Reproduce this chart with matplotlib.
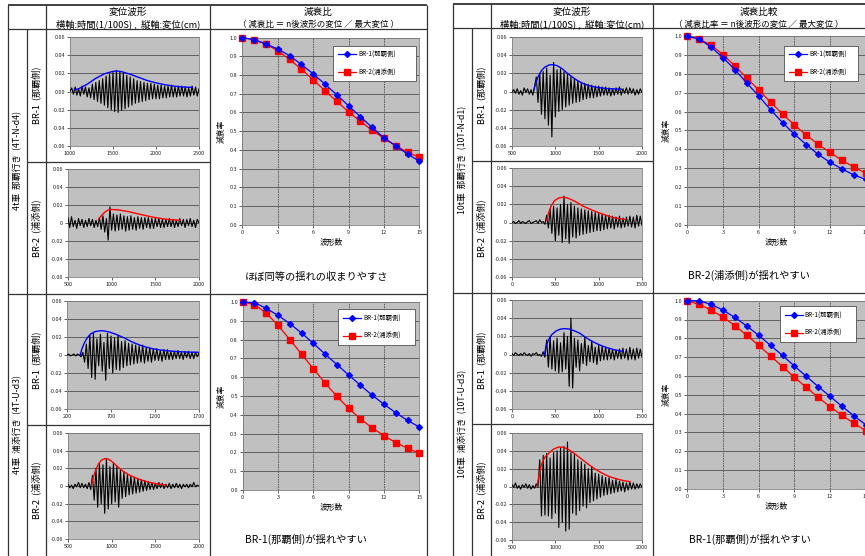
import numpy as np
import matplotlib
matplotlib.use('Agg')
import matplotlib.pyplot as plt

plt.rcParams['font.family'] = ['Noto Sans CJK JP', 'DejaVu Sans']

# ---------------- data ----------------
wave_count = list(range(16))

# decay ratios
d1_br1 = [1.0, 0.99, 0.966, 0.94, 0.904, 0.857, 0.807, 0.752, 0.695, 0.636, 0.578, 0.52, 0.465, 0.422, 0.378, 0.34]
d1_br2 = [1.0, 0.99, 0.966, 0.93, 0.884, 0.832, 0.775, 0.717, 0.66, 0.604, 0.553, 0.505, 0.462, 0.422, 0.388, 0.36]
d2_br1 = [1.0, 0.997, 0.966, 0.929, 0.885, 0.835, 0.78, 0.723, 0.667, 0.612, 0.557, 0.504, 0.456, 0.411, 0.37, 0.335]
d2_br2 = [1.0, 0.986, 0.941, 0.876, 0.80, 0.723, 0.645, 0.569, 0.498, 0.434, 0.379, 0.33, 0.289, 0.252, 0.222, 0.195]
d3_br1 = [1.0, 0.986, 0.943, 0.887, 0.823, 0.752, 0.683, 0.61, 0.542, 0.48, 0.425, 0.373, 0.331, 0.296, 0.264, 0.24]
d3_br2 = [1.0, 0.986, 0.952, 0.903, 0.842, 0.779, 0.715, 0.65, 0.588, 0.529, 0.476, 0.426, 0.384, 0.342, 0.306, 0.273]
d4_br1 = [1.0, 1.0, 0.98, 0.95, 0.911, 0.865, 0.816, 0.762, 0.709, 0.652, 0.598, 0.543, 0.491, 0.438, 0.388, 0.34]
d4_br2 = [1.0, 0.98, 0.95, 0.913, 0.867, 0.816, 0.762, 0.706, 0.649, 0.592, 0.539, 0.486, 0.436, 0.39, 0.348, 0.309]

# displacement waveforms: start time, sample step (1/100 s), peak values (cm)
w1_t0, w1_dt = 1000, 20
w1 = [0.000, 0.004, -0.003, 0.005, -0.004, 0.003, -0.005, 0.006, -0.003, 0.005, -0.006, 0.004, -0.007,
      0.008, -0.009, 0.010, -0.011, 0.012, -0.013, 0.014, -0.015,
      0.017, -0.018, 0.019, -0.020, 0.021, -0.022, 0.023, -0.023,
      0.022, -0.021, 0.020, -0.019, 0.018, -0.017, 0.016,
      -0.015, 0.014, -0.013, 0.012, -0.012, 0.011, -0.011, 0.010, -0.010, 0.009,
      -0.009, 0.009, -0.008, 0.008, -0.008, 0.007, -0.008, 0.007, -0.007, 0.006,
      -0.007, 0.006, -0.006, 0.007, -0.006, 0.005, -0.006, 0.006, -0.005, 0.006,
      -0.005, 0.005, -0.006, 0.004, -0.005, 0.006, -0.004, 0.005, -0.005, 0.003]
e1_t = [1050, 1100, 1200, 1300, 1400, 1500, 1550, 1600, 1700, 1800, 1900, 2000, 2100, 2200, 2300, 2420]
e1_v = [0.002, 0.003, 0.008, 0.0145, 0.0195, 0.0222, 0.0225, 0.0218, 0.019, 0.0155, 0.012, 0.0095, 0.0075, 0.006, 0.005, 0.0045]

w2_t0, w2_dt = 500, 20
w2 = [0.006, -0.005, 0.007, -0.004, 0.003, -0.006, 0.005, -0.003, 0.004, -0.005,
      0.003, -0.004, 0.005, -0.003, 0.004, -0.005, 0.003, -0.004, 0.006, -0.007,
      0.008, -0.010, 0.005, -0.019, 0.018, -0.008, 0.010, -0.009, 0.009, -0.008,
      0.010, -0.007, 0.008, -0.009, 0.007, -0.008, 0.008, -0.007, 0.006, -0.008,
      0.007, -0.006, 0.006, -0.007, 0.006, -0.005, 0.006, -0.006, 0.005, -0.006,
      0.005, -0.004, 0.005, -0.005, 0.004, -0.005, 0.004, -0.004, 0.005, -0.004,
      0.004, -0.005, 0.003, -0.004, 0.005, -0.003, 0.004, -0.005, 0.004, -0.003,
      0.005, -0.004, 0.003, -0.005, 0.004, 0.000]
e2_t = [850, 880, 920, 960, 1000, 1050, 1100, 1200, 1300, 1400, 1500, 1600, 1700, 1780]
e2_v = [0.004, 0.008, 0.012, 0.0145, 0.015, 0.0148, 0.0142, 0.0125, 0.0102, 0.008, 0.006, 0.0045, 0.0035, 0.003]

w3_t0, w3_dt = 200, 20
w3 = [0.000, 0.001, -0.001, 0.000, 0.001, -0.001, 0.001, 0.000, -0.002, 0.003,
      -0.008, 0.012, -0.015, 0.022, -0.025, 0.024, -0.027, 0.018, -0.012, 0.023,
      -0.018, 0.014, -0.028, 0.024, -0.015, 0.021, -0.020, 0.019, -0.016, 0.022,
      -0.017, 0.015, -0.014, 0.016, -0.012, 0.013, -0.011, 0.012, -0.010, 0.011,
      -0.009, 0.010, -0.008, 0.011, -0.009, 0.008, -0.007, 0.008, -0.008, 0.007,
      -0.006, 0.007, -0.006, 0.005, -0.007, 0.006, -0.005, 0.006, -0.005, 0.004,
      -0.005, 0.004, -0.004, 0.005, -0.004, 0.003, -0.005, 0.004, -0.003, 0.004,
      -0.004, 0.003, -0.004, 0.003, -0.002, 0.002]
e3_t = [350, 370, 400, 430, 470, 520, 580, 620, 680, 750, 850, 950, 1050, 1150, 1250, 1350, 1450, 1550, 1700]
e3_v = [0.0, 0.007, 0.014, 0.019, 0.0235, 0.026, 0.027, 0.0268, 0.0255, 0.0232, 0.019, 0.014, 0.0102, 0.0074, 0.0057, 0.0046, 0.0038, 0.0033, 0.003]

w4_t0, w4_dt = 500, 20
w4 = [0.002, -0.002, 0.001, -0.003, 0.002, -0.001, 0.004, -0.002, 0.003, -0.002,
      0.002, -0.003, 0.004, -0.004, 0.012, -0.016, 0.020, -0.024, 0.026, -0.020,
      0.024, -0.031, 0.031, -0.026, 0.022, -0.020, 0.026, -0.018, 0.022, -0.024,
      0.018, -0.014, 0.016, -0.012, 0.013, -0.010, 0.011, -0.009, 0.010, -0.008,
      0.008, -0.007, 0.007, -0.006, 0.006, -0.005, 0.005, -0.004, 0.004, -0.004,
      0.003, -0.003, 0.004, -0.002, 0.003, -0.003, 0.002, -0.002, 0.003, -0.003,
      0.002, -0.002, 0.003, -0.002, 0.002, -0.003, 0.002, -0.001, 0.002, -0.002,
      0.002, -0.001, 0.004, -0.001, 0.001, 0.000]
e4_t = [770, 790, 820, 850, 880, 920, 960, 1000, 1050, 1100, 1150, 1200, 1250, 1300, 1350, 1400, 1450, 1500, 1560, 1620]
e4_v = [0.001, 0.01, 0.019, 0.025, 0.029, 0.031, 0.0305, 0.028, 0.0235, 0.019, 0.0155, 0.0125, 0.0102, 0.0082, 0.0065, 0.005, 0.0038, 0.0028, 0.0018, 0.001]

w5_t0, w5_dt = 500, 20
w5 = [-0.001, 0.002, -0.002, 0.003, -0.003, 0.001, -0.004, 0.004, -0.001, 0.003,
      -0.003, 0.002, -0.004, 0.005, 0.016, -0.012, 0.020, -0.025, 0.022, -0.030,
      0.026, -0.037, 0.018, -0.050, 0.032, -0.028, 0.024, -0.022, 0.025, -0.020,
      0.022, -0.017, 0.019, -0.015, 0.016, -0.013, 0.014, -0.012, 0.012, -0.011,
      0.010, -0.009, 0.009, -0.008, 0.008, -0.007, 0.007, -0.007, 0.006, -0.006,
      0.006, -0.005, 0.005, -0.004, 0.005, -0.004, 0.004, -0.005, 0.003, -0.004,
      0.004, -0.003, 0.005, -0.004, 0.003, -0.002, 0.004, -0.003, 0.004, -0.002,
      0.003, -0.004, 0.002, -0.003, 0.003, -0.001]
e5_t = [750, 770, 800, 840, 880, 930, 970, 1020, 1080, 1140, 1200, 1260, 1320, 1380, 1450, 1520, 1600, 1680, 1760]
e5_v = [0.001, 0.008, 0.016, 0.023, 0.027, 0.0293, 0.0296, 0.0285, 0.025, 0.02, 0.0155, 0.0118, 0.0088, 0.0066, 0.005, 0.004, 0.0032, 0.0028, 0.0026]

w6_t0, w6_dt = 0, 20
w6 = [0.000, 0.001, -0.001, 0.000, 0.002, -0.001, 0.001, 0.000, -0.001, 0.001,
      0.002, -0.001, 0.000, 0.001, 0.002, -0.001, 0.003, 0.000, 0.001, -0.002,
      0.008, -0.006, 0.015, -0.012, 0.018, -0.020, 0.016, -0.014, 0.020, -0.022,
      0.029, -0.018, 0.020, -0.023, 0.022, -0.016, 0.018, -0.017, 0.016, -0.014,
      0.015, -0.013, 0.014, -0.012, 0.013, -0.011, 0.012, -0.010, 0.011, -0.009,
      0.010, -0.009, 0.009, -0.008, 0.008, -0.007, 0.008, -0.006, 0.007, -0.007,
      0.006, -0.005, 0.007, -0.006, 0.005, -0.005, 0.006, -0.004, 0.007, -0.005,
      0.006, -0.006, 0.008, -0.004, 0.007, -0.003]
e6_t = [400, 420, 450, 490, 540, 590, 640, 700, 760, 820, 880, 940, 1000, 1060, 1120, 1180, 1240, 1300]
e6_v = [0.002, 0.010, 0.018, 0.024, 0.027, 0.0278, 0.027, 0.0245, 0.0215, 0.018, 0.0155, 0.013, 0.0108, 0.0088, 0.0068, 0.0052, 0.0042, 0.0035]

w7_t0, w7_dt = 0, 20
w7 = [0.001, -0.001, 0.002, 0.000, -0.001, 0.001, -0.001, 0.002, 0.000, -0.001,
      0.001, -0.002, 0.001, 0.000, 0.002, -0.001, 0.000, -0.002, 0.003, -0.003,
      0.016, -0.014, 0.020, -0.016, 0.015, -0.018, 0.018, -0.020, 0.013, -0.019,
      0.024, -0.016, 0.020, -0.035, 0.040, -0.037, 0.018, -0.014, 0.016, -0.018,
      0.012, -0.010, 0.019, -0.012, 0.010, -0.008, 0.015, -0.009, 0.008, -0.011,
      0.010, -0.007, 0.009, -0.006, 0.008, -0.006, 0.007, -0.005, 0.006, -0.006,
      0.005, -0.004, 0.006, -0.005, 0.007, -0.004, 0.006, -0.006, 0.008, -0.005,
      0.006, -0.006, 0.007, -0.004, 0.006, -0.003]
e7_t = [375, 390, 420, 460, 510, 560, 610, 660, 720, 780, 840, 900, 960, 1020, 1080, 1140, 1200, 1260, 1280]
e7_v = [0.0, 0.008, 0.016, 0.022, 0.026, 0.028, 0.0285, 0.028, 0.026, 0.0235, 0.0195, 0.0158, 0.0128, 0.0102, 0.008, 0.0062, 0.0048, 0.0037, 0.0035]

w8_t0, w8_dt = 500, 20
w8 = [0.002, -0.001, 0.004, -0.002, 0.001, -0.003, 0.002, -0.001, 0.003, -0.002,
      0.002, -0.003, 0.001, -0.002, 0.003, -0.001, 0.030, -0.033, 0.035, -0.032,
      0.037, -0.033, 0.032, -0.036, 0.038, -0.030, 0.040, -0.046, 0.043, -0.040,
      0.045, -0.050, 0.050, -0.048, 0.038, -0.030, 0.036, -0.032, 0.030, -0.027,
      0.028, -0.022, 0.025, -0.024, 0.020, -0.018, 0.022, -0.016, 0.015, -0.014,
      0.014, -0.012, 0.012, -0.010, 0.010, -0.009, 0.010, -0.008, 0.007, -0.007,
      0.008, -0.006, 0.006, -0.005, 0.005, -0.006, 0.004, -0.004, 0.005, -0.003,
      0.004, -0.003, 0.003, -0.002, 0.003, -0.001]
e8_t = [790, 810, 840, 880, 930, 980, 1040, 1100, 1160, 1220, 1280, 1340, 1400, 1460, 1520, 1580, 1640, 1700, 1760, 1820, 1860]
e8_v = [0.0, 0.012, 0.025, 0.033, 0.038, 0.042, 0.0443, 0.0438, 0.041, 0.037, 0.0325, 0.028, 0.0235, 0.0195, 0.016, 0.013, 0.0105, 0.0088, 0.0072, 0.006, 0.0055]

# tick labels
xt_w1 = [1000, 1500, 2000, 2500]
xt_w2 = [500, 1000, 1500, 2000]
xt_w3 = [200, 700, 1200, 1700]
xt_w4 = [500, 1000, 1500, 2000]
xt_w5 = [500, 1000, 1500, 2000]
xt_w6 = [0, 500, 1000, 1500]
xt_w7 = [0, 500, 1000, 1500]
xt_w8 = [500, 1000, 1500, 2000]
yt_wave = [-0.06, -0.04, -0.02, 0.0, 0.02, 0.04, 0.06]
label_br1 = 'BR-1(那覇側)'
label_br2 = 'BR-2(浦添側)'

# ---------------- figure ----------------
W, H = 865, 556
fig = plt.figure(figsize=(W / 100, H / 100), dpi=100)
fig.patch.set_facecolor('white')

bg = fig.add_axes([0, 0, 1, 1], zorder=-5)
bg.set_xlim(0, W)
bg.set_ylim(H, 0)
bg.axis('off')


def px_axes(x0, y0, x1, y1):
    return fig.add_axes([x0 / W, 1 - y1 / H, (x1 - x0) / W, (y1 - y0) / H])


def hline(y, x0, x1, lw=0.9):
    bg.plot([x0, x1], [y, y], color='#333333', lw=lw, solid_capstyle='butt')


def vline(x, y0, y1, lw=0.9):
    bg.plot([x, x], [y0, y1], color='#333333', lw=lw, solid_capstyle='butt')


# left table
L0, L1, L2, L3, L4 = 8, 27, 46, 209.5, 427
hline(5, L0, L4, 1.3)
hline(29, L0, L4)
hline(294, L0, L4)
hline(162, L1, L3)
hline(425, L1, L3)
vline(L0, 5, H)
vline(L1, 29, H)
vline(L2, 5, H)
vline(L3, 5, H)
vline(L4, 5, H)

# right table
R0, R1, R2, R3, R4 = 452.7, 471.7, 491, 653.3, 880
hline(4, R0, R4, 1.3)
hline(28, R0, R4)
hline(292.7, R0, R4)
hline(161, R1, R3)
hline(424, R1, R3)
vline(R0, 4, H)
vline(R1, 28, H)
vline(R2, 4, H)
vline(R3, 4, H)

hdr_big = 6.9
hdr_small = 6.3
for (c_w, c_d, t_d, s_d) in [((L2 + L3) / 2, (L3 + L4) / 2, '減衰比', '（ 減衰比 ＝ n後波形の変位 ／ 最大変位 ）'),
                             ((R2 + R3) / 2, 759, '減衰比較', '（ 減衰比率 ＝ n後波形の変位 ／ 最大変位 ）')]:
    bg.text(c_w, 12, '変位波形', ha='center', va='center', fontsize=hdr_big)
    bg.text(c_w, 24, '横軸:時間(1/100S) ,  縦軸:変位(cm)', ha='center', va='center', fontsize=6.7)
    bg.text(c_d, 12, t_d, ha='center', va='center', fontsize=hdr_big)
    bg.text(c_d, 24, s_d, ha='center', va='center', fontsize=hdr_small - 0.2)

rowfs = 6.3
bg.text((L0 + L1) / 2, 161, '4t車  那覇行き  (4T-N-d4)', rotation=90, ha='center', va='center', fontsize=rowfs)
bg.text((L0 + L1) / 2, 425, '4t車  浦添行き  (4T-U-d3)', rotation=90, ha='center', va='center', fontsize=rowfs)
bg.text((R0 + R1) / 2, 160, '10t車  那覇行き  (10T-N-d1)', rotation=90, ha='center', va='center', fontsize=rowfs)
bg.text((R0 + R1) / 2, 424, '10t車  浦添行き  (10T-U-d3)', rotation=90, ha='center', va='center', fontsize=rowfs)
for cx in [(L1 + L2) / 2, (R1 + R2) / 2]:
    for cy, lab in [(95, 'BR-1  (那覇側)'), (228, 'BR-2  (浦添側)'), (360, 'BR-1  (那覇側)'), (490, 'BR-2  (浦添側)')]:
        bg.text(cx, cy, lab, rotation=90, ha='center', va='center', fontsize=rowfs + 0.3)

cfs = 7.4
bg.text(245, 277, 'ほぼ同等の揺れの収まりやすさ', ha='left', va='center', fontsize=cfs)
bg.text(245, 539, 'BR-1(那覇側)が揺れやすい', ha='left', va='center', fontsize=cfs)
bg.text(688, 275, 'BR-2(浦添側)が揺れやすい', ha='left', va='center', fontsize=cfs)
bg.text(689, 539, 'BR-1(那覇側)が揺れやすい', ha='left', va='center', fontsize=cfs)


def style_ax(ax):
    ax.set_facecolor('#c0c0c0')
    for s in ax.spines.values():
        s.set_color('#808080')
        s.set_linewidth(0.6)
    ax.tick_params(labelsize=4, length=2, width=0.5, pad=1.5, colors='#222222')
    ax.set_axisbelow(True)


def draw_wave(rect, t0, dt, vals, et, ev, ecol, xt, zero_lab):
    ax = px_axes(*rect)
    style_ax(ax)
    t = t0 + dt * np.arange(len(vals))
    ax.plot(t, vals, color='black', lw=0.8, zorder=3)
    ax.plot(et, ev, color=ecol, lw=1.0, zorder=4)
    ax.set_xlim(xt[0], xt[-1])
    ax.set_ylim(-0.06, 0.06)
    ax.set_xticks(xt)
    ax.set_yticks(yt_wave)
    ax.set_yticklabels(['-0.06', '-0.04', '-0.02', zero_lab, '0.02', '0.04', '0.06'])
    ax.grid(axis='y', color='#505050', lw=0.6)
    return ax


draw_wave((70, 37, 199, 146), w1_t0, w1_dt, w1, e1_t, e1_v, '#0000ff', xt_w1, '0.00')
draw_wave((68, 169, 199, 277), w2_t0, w2_dt, w2, e2_t, e2_v, '#ff0000', xt_w2, '0')
draw_wave((67, 301, 199, 409), w3_t0, w3_dt, w3, e3_t, e3_v, '#0000ff', xt_w3, '0')
draw_wave((68, 433, 199, 539), w4_t0, w4_dt, w4, e4_t, e4_v, '#ff0000', xt_w4, '0')
draw_wave((512, 37, 642, 146), w5_t0, w5_dt, w5, e5_t, e5_v, '#0000ff', xt_w5, '0')
draw_wave((512, 168, 642, 277), w6_t0, w6_dt, w6, e6_t, e6_v, '#ff0000', xt_w6, '0')
draw_wave((512, 300, 642, 409), w7_t0, w7_dt, w7, e7_t, e7_v, '#0000ff', xt_w7, '0')
draw_wave((512, 433, 642, 540), w8_t0, w8_dt, w8, e8_t, e8_v, '#ff0000', xt_w8, '0')


def draw_decay(rect, b1, b2, leg_box):
    ax = px_axes(*rect)
    style_ax(ax)
    ax.plot(wave_count, b1, color='#0000ff', lw=0.9, marker='D', ms=3.0, mec='#0000ff', mfc='#0000ff',
            label=label_br1, clip_on=False, zorder=4)
    ax.plot(wave_count, b2, color='#ff0000', lw=0.9, marker='s', ms=4.6, mec='#ff0000', mfc='#ff0000',
            label=label_br2, clip_on=False, zorder=3)
    ax.set_xlim(0, 15)
    ax.set_ylim(0, 1.0)
    ax.set_xticks([0, 3, 6, 9, 12, 15])
    ax.set_yticks(np.arange(0, 1.01, 0.1))
    ax.set_yticklabels(['%.1f' % v for v in np.arange(0, 1.01, 0.1)])
    ax.grid(axis='y', color='#505050', lw=0.6)
    ax.grid(axis='x', color='#505050', lw=0.6, ls=(0, (2, 1)))
    ax.set_xlabel('波形数', fontsize=5.6, labelpad=3)
    ax.set_ylabel('減衰率', fontsize=5.6, labelpad=3)
    leg = ax.legend(loc='upper left', bbox_to_anchor=leg_box, mode='expand', fontsize=4.6,
                    frameon=True, fancybox=False, edgecolor='#333333', framealpha=1,
                    handlelength=2.8, labelspacing=1.5, borderpad=0.8, handletextpad=0.3)
    leg.get_frame().set_linewidth(0.5)
    return ax


draw_decay((242.3, 37.7, 419.3, 224.7), d1_br1, d1_br2, (0.495, 0.975, 0.505, 0.0))
draw_decay((242.7, 302, 419.3, 490), d2_br1, d2_br2, (0.523, 0.979, 0.47, 0.0))
draw_decay((687.3, 36.3, 865.8, 224.7), d3_br1, d3_br2, (0.525, 0.968, 0.448, 0.0))
draw_decay((687.3, 300.7, 865.8, 488.7), d4_br1, d4_br2, (0.50, 0.988, 0.462, 0.0))

fig.savefig('out.png', dpi=100)
